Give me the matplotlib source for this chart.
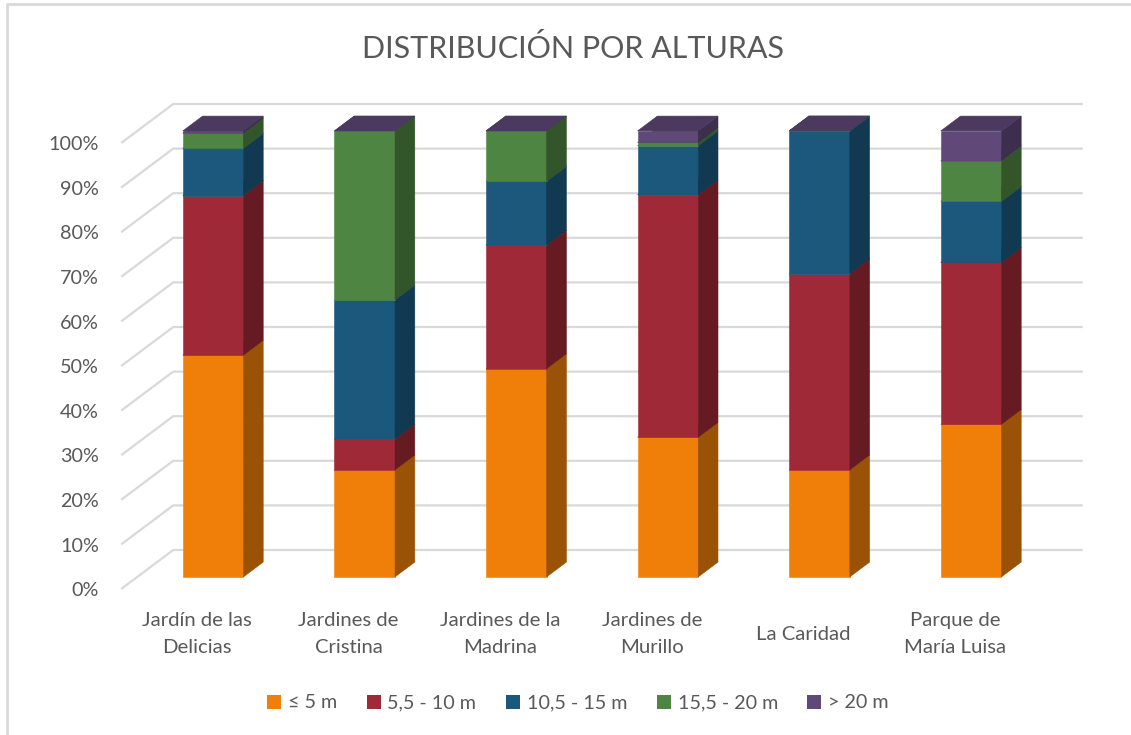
import matplotlib.pyplot as plt
from matplotlib.patches import Polygon
from matplotlib.lines import Line2D

plt.rcParams['font.family'] = ['Lato', 'DejaVu Sans']

parques = ['Jardín de las\nDelicias', 'Jardines de\nCristina', 'Jardines de la\nMadrina',
           'Jardines de\nMurillo', 'La Caridad', 'Parque de\nMaría Luisa']
rangos = ['≤ 5 m', '5,5 - 10 m', '10,5 - 15 m', '15,5 - 20 m', '> 20 m']

hasta_5 = [49.7, 24.0, 46.7, 31.3, 24.0, 34.2]
de_5_a_10 = [35.8, 6.9, 27.7, 54.4, 44.0, 36.3]
de_10_a_15 = [10.6, 31.2, 14.3, 11.0, 32.0, 13.7]
de_15_a_20 = [3.4, 37.9, 11.3, 0.7, 0.0, 9.1]
mas_de_20 = [0.5, 0.0, 0.0, 2.6, 0.0, 6.7]
series = [hasta_5, de_5_a_10, de_10_a_15, de_15_a_20, mas_de_20]

# colores de cara frontal, lateral y superior
frente = ['#F07F09', '#9F2936', '#1B587C', '#4E8542', '#604878']
lateral = ['#9A5206', '#661B23', '#113A52', '#32562A', '#3E2E4E']
arriba = ['#C06707', '#7F212B', '#164663', '#3E6A35', '#4B3960']

gris = '#595959'
rejilla = '#D9D9D9'

# proyección oblicua: desplazamiento por unidad de profundidad
PX = 0.343   # en unidades de categoría
PY = 8.74    # en puntos porcentuales
ANCHO = 0.40
D0, D1 = 0.31, 0.69


def proy(x, y, d):
    return (x + PX * d, y + PY * d)


fig = plt.figure(figsize=(11.31, 7.35), dpi=100)
ax = fig.add_axes([0, 0, 1, 1])
ax.set_xlim(-1.2995, 6.161)
ax.set_ylim(-32.74, 132.06)
ax.axis('off')

# líneas de división en pared lateral y pared del fondo
for k in range(0, 101, 10):
    pts = [proy(-0.5, k, 0), proy(-0.5, k, 1), proy(5.5, k, 1)]
    ax.plot([p[0] for p in pts], [p[1] for p in pts], color=rejilla, lw=1.6,
            solid_capstyle='butt', zorder=1)
    ax.text(-0.646, k - 0.4, f'{k}%', ha='right', va='center', fontsize=14.2, color=gris)

# columnas apiladas en 3D
for i in range(len(parques)):
    base = 0
    x0, x1 = i - ANCHO / 2, i + ANCHO / 2
    for s, valores in enumerate(series):
        tope = base + valores[i]
        caras = [
            ([proy(x0, base, D0), proy(x1, base, D0), proy(x1, tope, D0), proy(x0, tope, D0)], frente[s]),
            ([proy(x1, base, D0), proy(x1, base, D1), proy(x1, tope, D1), proy(x1, tope, D0)], lateral[s]),
            ([proy(x0, tope, D0), proy(x1, tope, D0), proy(x1, tope, D1), proy(x0, tope, D1)], arriba[s]),
        ]
        for pts, c in caras:
            ax.add_patch(Polygon(pts, closed=True, facecolor=c, edgecolor=c, lw=0.4, zorder=2))
        base = tope
    ax.text(i, -10.1, parques[i], ha='center', va='center', fontsize=14.6, color=gris,
            linespacing=1.65)

fig.text(573 / 1131, 1 - 48 / 735, 'DISTRIBUCIÓN POR ALTURAS', ha='center', va='center',
         fontsize=22, color=gris)

marcas = [plt.Rectangle((0, 0), 1, 1, facecolor=c, edgecolor='none') for c in frente]
fig.legend(marcas, rangos, loc='center', bbox_to_anchor=(578 / 1131, 1 - 703 / 735), ncol=5,
           frameon=False, fontsize=14.2, labelcolor=gris, handlelength=0.7, handleheight=0.7,
           handletextpad=0.35, columnspacing=1.5)

# borde del área del gráfico
fig.add_artist(Line2D([7 / 1131, 7 / 1131, 1], [0, 1 - 4 / 735, 1 - 4 / 735],
                      transform=fig.transFigure, color=rejilla, lw=2))

fig.savefig('out.png', dpi=100)
